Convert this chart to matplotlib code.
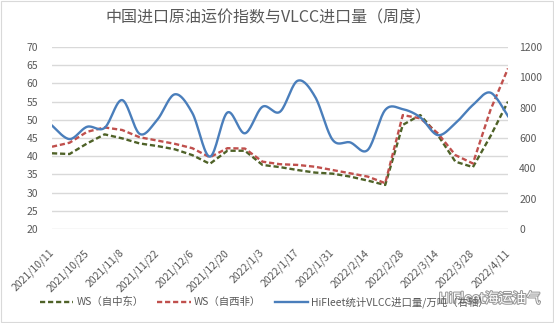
import numpy as np
import matplotlib
matplotlib.use("Agg")
import matplotlib.pyplot as plt
import matplotlib.patheffects as pe
from matplotlib.lines import Line2D
from matplotlib.patches import Rectangle

plt.rcParams['font.family'] = ['Noto Sans CJK SC', 'DejaVu Sans']

# weekly dates, every second one is labelled
dates = ['2021/10/11', '2021/10/18', '2021/10/25', '2021/11/1', '2021/11/8', '2021/11/15',
         '2021/11/22', '2021/11/29', '2021/12/6', '2021/12/13', '2021/12/20', '2021/12/27',
         '2022/1/3', '2022/1/10', '2022/1/17', '2022/1/24', '2022/1/31', '2022/2/7',
         '2022/2/14', '2022/2/21', '2022/2/28', '2022/3/7', '2022/3/14', '2022/3/21',
         '2022/3/28', '2022/4/4', '2022/4/11']

ws_me = [40.8, 40.6, 43.5, 46.0, 44.9, 43.5, 42.8, 41.9, 40.3, 37.9, 41.5, 41.5, 37.6, 37.0,
         36.2, 35.5, 35.2, 34.4, 33.3, 32.1, 48.6, 51.3, 45.8, 38.5, 37.0, 45.5, 55.0]
ws_wa = [42.6, 43.7, 46.7, 47.9, 47.2, 45.2, 44.3, 43.4, 42.2, 39.7, 42.2, 42.1, 38.5, 37.8,
         37.6, 37.1, 36.2, 35.3, 34.4, 32.6, 51.3, 50.4, 46.3, 40.3, 38.0, 52.7, 64.1]
vlcc = [682, 593, 674, 667, 850, 627, 720, 888, 765, 477, 768, 631, 806, 773,
        977, 872, 588, 571, 521, 785, 790, 736, 619, 697, 818, 899, 744]

GREEN = '#4F6228'
RED = '#C0504D'
BLUE = '#4A7EBB'
GRID = '#D9D9D9'
TXT = '#595959'


def smooth(y, n=20):
    # Excel-style smoothed line (Catmull-Rom through the points)
    y = np.asarray(y, float)
    x = np.arange(len(y), dtype=float)
    xp = np.concatenate([[x[0]], x, [x[-1]]])
    yp = np.concatenate([[y[0]], y, [y[-1]]])
    xs, ys = [], []
    t = np.linspace(0, 1, n)
    for i in range(len(y) - 1):
        p0 = np.array([xp[i + 1], yp[i + 1]])
        p3 = np.array([xp[i + 2], yp[i + 2]])
        c1 = p0 + (p3 - np.array([xp[i], yp[i]])) / 6
        c2 = p3 - (np.array([xp[i + 3], yp[i + 3]]) - p0) / 6
        pts = ((1 - t) ** 3)[:, None] * p0 + (3 * (1 - t) ** 2 * t)[:, None] * c1 \
            + (3 * (1 - t) * t ** 2)[:, None] * c2 + (t ** 3)[:, None] * p3
        xs.extend(pts[:, 0])
        ys.extend(pts[:, 1])
    return np.array(xs), np.array(ys)


fig = plt.figure(figsize=(5.54, 3.23), dpi=100)
fig.patches.append(Rectangle((0.002, 0.004), 0.996, 0.992, transform=fig.transFigure,
                             fill=False, edgecolor='#D9D9D9', linewidth=0.8))
ax = fig.add_axes([52 / 554, 1 - 229 / 323, 456 / 554, 182 / 323])
ax2 = ax.twinx()

x = np.arange(len(dates))
dash = (0, (2.2, 1.2))
ax.plot(x, ws_me, color=GREEN, lw=1.7, ls=dash, zorder=3)
ax.plot(x, ws_wa, color=RED, lw=1.7, ls=dash, zorder=3)
sx, sy = smooth(vlcc)
ax2.plot(sx, sy, color=BLUE, lw=1.7, zorder=3)

ax.set_ylim(20, 70)
ax.set_yticks(np.arange(20, 71, 5))
ax2.set_ylim(0, 1200)
ax2.set_yticks(np.arange(0, 1201, 200))
ax.set_xlim(0, len(dates) - 1)
ax.set_xticks(x[::2])
ax.set_xticklabels(dates[::2], rotation=45, ha='right', va='center', rotation_mode='anchor')
ax.grid(axis='y', color=GRID, lw=1.0)
ax.set_axisbelow(True)

for a in (ax, ax2):
    for s in a.spines.values():
        s.set_visible(False)
    a.tick_params(length=0, labelsize=7.5, labelcolor=TXT)
ax.tick_params(axis='y', pad=10)
ax2.tick_params(axis='y', pad=8)
ax.tick_params(axis='x', pad=16)

fig.text(0.485, 0.945, '中国进口原油运价指数与VLCC进口量（周度）', ha='center', va='center',
         fontsize=11.5, color=TXT)

handles = [Line2D([], [], color=GREEN, lw=1.7, ls=dash),
           Line2D([], [], color=RED, lw=1.7, ls=dash),
           Line2D([], [], color=BLUE, lw=1.7)]
labels = ['WS（自中东）', 'WS（自西非）', 'HiFleet统计VLCC进口量/万吨（右轴）']
fig.legend(handles, labels, loc='center left', bbox_to_anchor=(40 / 554, 0.065), ncol=3,
           frameon=False, fontsize=7.5, handlelength=3.2, columnspacing=1.3,
           handletextpad=0.3, labelcolor=TXT, borderaxespad=0, borderpad=0)

fig.text(0.975, 0.075, 'HiFleet海运油气', ha='right', va='center', fontsize=10, color='white',
         path_effects=[pe.withStroke(linewidth=1.5, foreground='#9A9A9A')])

fig.savefig('out.png', dpi=100)
